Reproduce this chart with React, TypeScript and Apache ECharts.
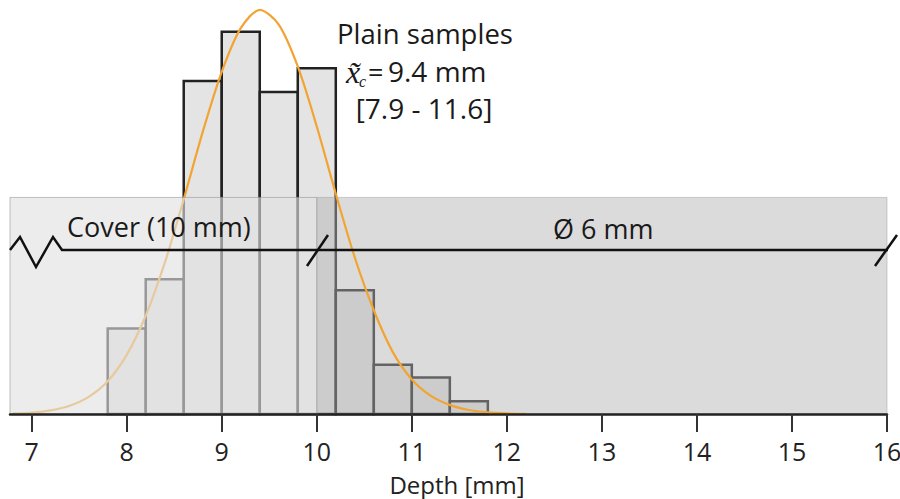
import React, { useEffect, useRef } from "react";
import * as echarts from "echarts";

// Tick labels of the depth axis [mm]
const xTicks = [7, 8, 9, 10, 11, 12, 13, 14, 15, 16];
// Histogram bin edges [mm] and relative frequency [%]
const binEdges = [7.8, 8.2, 8.6, 9.0, 9.4, 9.8, 10.2, 10.6, 11.0, 11.4, 11.8];
const freq = [4.7, 7.4, 18.3, 21.0, 17.7, 19.0, 6.8, 2.7, 2.0, 0.7];
// Fitted distribution curve
const curveX = [6.8, 7.0, 7.2, 7.4, 7.6, 7.8, 8.0, 8.2, 8.4, 8.6, 8.8, 9.0, 9.2, 9.4, 9.6, 9.8, 10.0, 10.2, 10.4, 10.6, 10.8, 11.0, 11.2, 11.4, 11.6, 11.8, 12.0, 12.2];
const curveY = [0.03, 0.08, 0.2, 0.45, 0.94, 1.8, 3.25, 5.4, 8.3, 11.8, 15.5, 18.8, 21.2, 22.2, 21.4, 19.1, 15.8, 12.1, 8.6, 5.7, 3.4, 1.9, 1.0, 0.5, 0.22, 0.09, 0.03, 0.01];
// Schematic zones: concrete cover and rebar (Ø 6 mm)
const axisMin = 6.772;
const axisMax = 16;
const coverZone = [axisMin, 10.0];
const rebarZone = [10.0, 16.0];
const zoneHeight = 11.9;

const FONT = "Open Sans";

export default function App() {
  const ref = useRef<HTMLDivElement>(null);
  useEffect(() => {
    if (!ref.current) return;
    const chart = echarts.init(ref.current, undefined, { renderer: "svg" });

    const barData = freq.map((v, i) => [binEdges[i], binEdges[i + 1], v]);
    const lineData = curveX.map((x, i) => [x, curveY[i]]);

    const zoneRender = (fill: string, opacity: number) => (params: any, api: any) => {
      const p0 = api.coord([api.value(0), api.value(2)]);
      const p1 = api.coord([api.value(1), 0]);
      return {
        type: "rect",
        shape: { x: p0[0], y: p0[1], width: p1[0] - p0[0], height: p1[1] - p0[1] },
        style: { fill, opacity, stroke: "#9a9a9a", lineWidth: 1 },
      };
    };

    chart.setOption({
      animation: false,
      backgroundColor: "#ffffff",
      grid: { left: 10, right: 13, top: 10, bottom: 85, containLabel: false, outerBoundsMode: "none" },
      xAxis: {
        type: "value",
        min: axisMin,
        max: axisMax,
        z: 10,
        splitLine: { show: false },
        axisLine: { show: true, lineStyle: { color: "#222", width: 2.5 } },
        axisTick: {
          show: true,
          length: 18,
          customValues: xTicks,
          lineStyle: { color: "#333", width: 2 },
        },
        axisLabel: {
          customValues: xTicks,
          margin: 24,
          fontFamily: FONT,
          fontSize: 25,
          lineHeight: 25,
          color: "#222",
          hideOverlap: false,
        },
        name: "Depth [mm]",
        nameLocation: "middle",
        nameGap: 58,
        nameTextStyle: { fontFamily: FONT, fontSize: 24, color: "#222", padding: [0, 0, 0, 17] },
      },
      yAxis: {
        type: "value",
        min: 0,
        max: 22.2,
        show: false,
      },
      series: [
        {
          type: "custom",
          z: 2,
          data: barData,
          encode: { x: [0, 1], y: 2 },
          renderItem: (params: any, api: any) => {
            const p0 = api.coord([api.value(0), api.value(2)]);
            const p1 = api.coord([api.value(1), 0]);
            return {
              type: "rect",
              shape: { x: p0[0], y: p0[1], width: p1[0] - p0[0], height: p1[1] - p0[1] },
              style: { fill: "#e4e4e4", stroke: "#222", lineWidth: 2.5 },
            };
          },
        },
        {
          type: "custom",
          z: 3,
          data: [[rebarZone[0], rebarZone[1], zoneHeight]],
          encode: { x: [0, 1], y: 2 },
          renderItem: zoneRender("#b0b0b0", 0.46),
        },
        {
          type: "line",
          z: 4,
          data: lineData,
          smooth: 0.3,
          symbol: "none",
          lineStyle: { color: "#f2a433", width: 2.2 },
        },
        {
          type: "custom",
          z: 5,
          data: [[coverZone[0], coverZone[1], zoneHeight]],
          encode: { x: [0, 1], y: 2 },
          renderItem: zoneRender("#e0e0e0", 0.62),
        },
      ],
      graphic: [
        {
          type: "polyline",
          z: 20,
          shape: { points: [[10, 250], [20, 237], [36, 267], [53, 237], [62, 250], [888, 250]] },
          style: { stroke: "#111", lineWidth: 2.5, fill: null },
        },
        { type: "line", z: 20, shape: { x1: 307, y1: 266, x2: 328, y2: 235 }, style: { stroke: "#111", lineWidth: 2.5 } },
        { type: "line", z: 20, shape: { x1: 875, y1: 266, x2: 897, y2: 235 }, style: { stroke: "#111", lineWidth: 2.5 } },
        {
          type: "text", z: 20, x: 67, y: 226,
          style: { text: "Cover (10 mm)", fontFamily: FONT, fontSize: 27, fill: "#1a1a1a", verticalAlign: "middle" },
        },
        {
          type: "text", z: 20, x: 553, y: 228,
          style: { text: "Ø 6 mm", fontFamily: FONT, fontSize: 27, fill: "#1a1a1a", verticalAlign: "middle" },
        },
        {
          type: "text", z: 20, x: 425, y: 33,
          style: { text: "Plain samples", fontFamily: FONT, fontSize: 27.5, lineHeight: 28, fill: "#1a1a1a", align: "center", verticalAlign: "middle" },
        },
        {
          type: "text", z: 20, x: 346, y: 72,
          style: { text: "x\u0303", fontFamily: "Liberation Serif", fontStyle: "italic", fontSize: 32, lineHeight: 30, fill: "#1a1a1a", verticalAlign: "middle" },
        },
        {
          type: "text", z: 20, x: 359, y: 81,
          style: { text: "c", fontFamily: "Liberation Serif", fontStyle: "italic", fontSize: 16, lineHeight: 14, fill: "#1a1a1a", verticalAlign: "middle" },
        },
        {
          type: "text", z: 20, x: 368, y: 71,
          style: { text: "=", fontFamily: FONT, fontSize: 27, lineHeight: 28, fill: "#1a1a1a", verticalAlign: "middle" },
        },
        {
          type: "text", z: 20, x: 388, y: 71,
          style: { text: "9.4 mm", fontFamily: FONT, fontSize: 28, lineHeight: 28, fill: "#1a1a1a", verticalAlign: "middle" },
        },
        {
          type: "text", z: 20, x: 424, y: 108,
          style: { text: "[7.9 - 11.6]", fontFamily: FONT, fontSize: 28, lineHeight: 28, fill: "#1a1a1a", align: "center", verticalAlign: "middle" },
        },
      ],
    });
    return () => chart.dispose();
  }, []);

  return (
    <div
      ref={ref}
      style={{ position: "absolute", left: 0, top: 0, width: 900, height: 499 }}
    />
  );
}
